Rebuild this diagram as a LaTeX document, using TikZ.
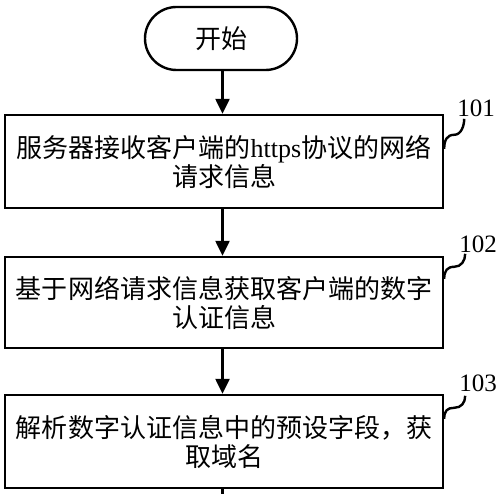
\documentclass[tikz,border=0pt]{standalone}
\usepackage{fontspec}
\setmainfont{Liberation Serif}
\newfontfamily\cjk{Noto Sans CJK SC}
\usetikzlibrary{arrows.meta,shapes.misc,calc}
\tikzset{
  flow/.style={line width=2.4pt},
  term/.style={draw, line width=2.4pt, rounded rectangle, minimum width=152pt, minimum height=63pt, inner sep=0pt, font=\fontsize{26pt}{29pt}\selectfont\cjk},
  stepbox/.style={draw, line width=2.4pt, rectangle, minimum width=438pt, inner sep=0pt, align=center, font=\fontsize{26pt}{29pt}\selectfont\cjk},
  arr/.style={line width=2.4pt, -{Triangle[length=15pt,width=14pt]}},
  lab/.style={font=\fontsize{25pt}{27pt}\selectfont, inner sep=0pt},
  leader/.style={line width=2.4pt}
}
\begin{document}
\begin{tikzpicture}[x=1pt,y=-1pt]
\useasboundingbox (0,0) rectangle (500,494);
\node[term] (start) at (221,38.5) {开始};
\node[stepbox, minimum height=93pt] (b1) at (224,161.5) {服务器接收客户端的{\rmfamily https}协议的网络\\请求信息};
\node[stepbox, minimum height=91pt] (b2) at (224,302.5) {基于网络请求信息获取客户端的数字\\认证信息};
\node[stepbox, minimum height=93pt] (b3) at (224,441.5) {解析数字认证信息中的预设字段，获\\取域名};
\node[lab] (l1) at (476,108) {101};
\node[lab] (l2) at (478,244) {102};
\node[lab] (l3) at (478,383) {103};
\coordinate (s0) at (222.5,0);
\coordinate (end) at (222.5,494);
\draw[arr] (start.south -| s0) -- (b1.north -| s0);
\draw[arr] (b1.south -| s0) -- (b2.north -| s0);
\draw[arr] (b2.south -| s0) -- (b3.north -| s0);
\draw[flow] (b3.south -| s0) -- (end);
\path (b1.north east) ++(0,35) coordinate (k1);
\path (b2.north east) ++(0,23) coordinate (k2);
\path (b3.north east) ++(0,25) coordinate (k3);
\draw[leader] (k1) .. controls +(0,-9) and +(-7,0) .. ++(10,-14) .. controls +(7,0) and +(0,7) .. ++(10,-16);
\draw[leader] (k2) .. controls +(0,-8) and +(-7,0) .. ++(10,-12) .. controls +(7,0) and +(0,7) .. ++(11,-13);
\draw[leader] (k3) .. controls +(0,-8) and +(-7,0) .. ++(10,-11) .. controls +(7,0) and +(0,7) .. ++(11,-12);
\end{tikzpicture}
\end{document}
